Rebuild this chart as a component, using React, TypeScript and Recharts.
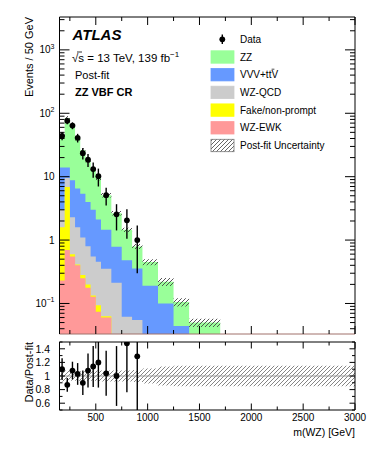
import React from 'react'
import { ComposedChart, Area, Scatter, ErrorBar, XAxis, YAxis, ReferenceLine } from 'recharts'

const FONT = '"Liberation Sans", Arial, Helvetica, sans-serif'

// variable-width bins in m(WZ) [GeV]
const binEdges = [150, 200, 250, 300, 350, 400, 450, 500, 550, 650, 750, 850, 950, 1100, 1250, 1400, 1700, 3000]

// post-fit yields, events / 50 GeV (stack order bottom -> top)
const wzEwk = [0.23, 0.7, 0.55, 0.4, 0.25, 0.177, 0.128, 0.074, 0.06, 0.02, 0.012, 0.008, 0.005, 0.003, 0.002, 0.001, 0.0005]
const fakeNonPrompt = [1.37, 6.2, 0.05, 0.01, 0.03, 0.023, 0.005, 0.02, 0.003, 0.002, 0.001, 0.001, 0.0005, 0.0003, 0.0002, 0.0001, 0.0001]
const wzQcd = [1.4, 2.6, 1.7, 1.19, 0.82, 0.6, 0.42, 0.36, 0.29, 0.19, 0.049, 0.046, 0.015, 0.01, 0.005, 0.002, 0.001]
const vvvTtv = [11, 4.5, 6.5, 4.9, 4.3, 3.2, 2.45, 1.65, 1.1, 0.57, 0.42, 0.3, 0.17, 0.087, 0.037, 0.015, 0.004]
const zzYield = [30, 70, 55.2, 33.5, 20.6, 14, 10, 7.4, 3.65, 1.87, 0.97, 0.44, 0.26, 0.12, 0.061, 0.032, 0.01]
// relative post-fit uncertainty per bin
const uncRel = [0.08, 0.08, 0.07, 0.07, 0.07, 0.07, 0.07, 0.08, 0.08, 0.08, 0.08, 0.09, 0.11, 0.14, 0.15, 0.15, 0.15]

// data
const dataCenters = [175, 225, 275, 325, 375, 425, 475, 525, 600, 700, 800, 900]
const dataValues = [44, 76, 64, 41, 23.5, 18.5, 13.2, 10.2, 5.1, 2.55, 2.05, 1.0]
const dataErr = [6.6, 8.7, 8, 6.4, 4.8, 4.3, 3.6, 3.2, 1.6, 1.13, 1.0, 0.7]
const ratioValues = [1.1, 0.87, 1.08, 1.03, 0.9, 1.08, 1.14, 1.2, 1.04, 1.0, 1.48, 1.29]
const ratioErr = [0.16, 0.1, 0.13, 0.16, 0.18, 0.25, 0.3, 0.37, 0.33, 0.44, 0.72, 0.9]

// axis ticks
const xTicks = [250, 500, 750, 1000, 1250, 1500, 1750, 2000, 2250, 2500, 2750, 3000]
const xMajor = [500, 1000, 1500, 2000, 2500, 3000]
const yTicks = [0.04, 0.05, 0.06, 0.07, 0.08, 0.09, 0.1, 0.2, 0.3, 0.4, 0.5, 0.6, 0.7, 0.8, 0.9, 1, 2, 3, 4, 5, 6, 7, 8, 9, 10, 20, 30, 40, 50, 60, 70, 80, 90, 100, 200, 300, 400, 500, 600, 700, 800, 900, 1000, 2000, 3000]
const yMajor = [0.1, 1, 10, 100, 1000]
const yMajorExp: Record<string, string> = { '0.1': '\u22121', '1': '', '10': '', '100': '2', '1000': '3' }
const rTicks = [0.5, 0.6, 0.7, 0.8, 0.9, 1, 1.1, 1.2, 1.3, 1.4, 1.5]
const rMajor = [0.6, 0.8, 1, 1.2, 1.4]

const Y_MIN = 0.033
const Y_MAX = 3300
const R_MIN = 0.5
const R_MAX = 1.5

const nBins = binEdges.length - 1
const binRows = binEdges.map((x, i) => {
  const j = Math.min(i, nBins - 1) // last edge repeats the last bin to close the step
  const ewk = wzEwk[j]
  const fake = ewk + fakeNonPrompt[j]
  const qcd = fake + wzQcd[j]
  const vvv = qcd + vvvTtv[j]
  const total = vvv + zzYield[j]
  return {
    x,
    ewk,
    fake,
    qcd,
    vvv,
    total,
    band: [total * (1 - uncRel[j]), total * (1 + uncRel[j])],
    ratioBand: [1 - uncRel[j], 1 + uncRel[j]],
  }
})

const pointRows = dataCenters.map((x, i) => ({ x, y: dataValues[i], err: dataErr[i] }))
// error bars are cut at the edges of the ratio frame
const ratioRows = dataCenters.map((x, i) => {
  const y = ratioValues[i]
  return { x, y, err: [Math.min(ratioErr[i], y - R_MIN), Math.min(ratioErr[i], R_MAX - y)] }
})

const DataDot = (p: any) => <circle cx={p.cx} cy={p.cy} r={2.9} fill="#000" />

function xTick(side: 'top' | 'bottom', majLen: number, minLen: number, labels: boolean) {
  return (p: any) => {
    const v = p.payload.value
    const isMaj = xMajor.includes(v)
    const dir = side === 'bottom' ? -1 : 1
    return (
      <g>
        <line x1={p.x} x2={p.x} y1={p.y} y2={p.y + dir * (isMaj ? majLen : minLen)} stroke="#000" />
        {labels && isMaj && (
          <text x={p.x} y={p.y + 10.5} textAnchor="middle" fontSize={10} fontFamily={FONT} fill="#000">
            {v}
          </text>
        )}
      </g>
    )
  }
}

function logTick(side: 'left' | 'right') {
  return (p: any) => {
    const v = p.payload.value
    const isMaj = yMajor.includes(v)
    const dir = side === 'left' ? 1 : -1
    const exp = yMajorExp[String(v)]
    return (
      <g>
        <line x1={p.x} x2={p.x + dir * (isMaj ? 10 : 5)} y1={p.y} y2={p.y} stroke="#000" />
        {side === 'left' && isMaj && (
          <text x={p.x - 5} y={p.y + 3.5} textAnchor="end" fontSize={10} fontFamily={FONT} fill="#000">
            {v === 1 ? '1' : '10'}
            {exp ? (
              <tspan dy={-4.5} fontSize={7}>
                {exp}
              </tspan>
            ) : null}
          </text>
        )}
      </g>
    )
  }
}

function ratioTick(side: 'left' | 'right') {
  return (p: any) => {
    const v = p.payload.value
    const isMaj = rMajor.includes(v)
    const dir = side === 'left' ? 1 : -1
    return (
      <g>
        <line x1={p.x} x2={p.x + dir * (isMaj ? 5.5 : 3)} y1={p.y} y2={p.y} stroke="#000" />
        {side === 'left' && isMaj && (
          <text x={p.x - 9.5} y={p.y + 3.7} textAnchor="end" fontSize={10.5} fontFamily={FONT} fill="#000">
            {v}
          </text>
        )}
      </g>
    )
  }
}

function Hatch({ id, color }: { id: string; color: string }) {
  return (
    <pattern id={id} patternUnits="userSpaceOnUse" width="4" height="4">
      <path d="M-1,1 l2,-2 M0,4 l4,-4 M3,5 l2,-2" stroke={color} strokeWidth="0.9" />
    </pattern>
  )
}

const legendItems = [
  { label: 'ZZ', fill: '#99ff99' },
  { label: 'VVV+ttV', fill: '#6699ff' },
  { label: 'WZ-QCD', fill: '#cccccc' },
  { label: 'Fake/non-prompt', fill: '#ffff00' },
  { label: 'WZ-EWK', fill: '#ff9999' },
  { label: 'Post-fit Uncertainty', fill: 'url(#hatchLegend)' },
]

function Overlay() {
  return (
    <svg width={374} height={456} style={{ position: 'absolute', left: 0, top: 0, pointerEvents: 'none' }} fontFamily={FONT}>
      <defs>
        <Hatch id="hatchLegend" color="#555" />
      </defs>
      <text x={72.5} y={40} fontSize={15} fontWeight="bold" fontStyle="italic">ATLAS</text>
      <line x1={77} x2={82} y1={52} y2={52} stroke="#000" strokeWidth={0.8} />
      <text x={72} y={62} fontSize={11.5}>
        {'\u221As = 13 TeV, 139 fb'}
        <tspan dy={-5} fontSize={8}>{'\u22121'}</tspan>
      </text>
      <text x={75} y={78.5} fontSize={11}>Post-fit</text>
      <text x={75} y={95.7} fontSize={11} fontWeight="bold">ZZ VBF CR</text>

      <text transform="translate(33,17) rotate(-90)" textAnchor="end" fontSize={11}>Events / 50 GeV</text>
      <text transform="translate(33,342) rotate(-90)" textAnchor="end" fontSize={11}>Data/Post-fit</text>
      <text x={355} y={436} textAnchor="end" fontSize={10.5}>m(WZ) [GeV]</text>

      {/* legend */}
      <line x1={222.3} x2={222.3} y1={34.5} y2={44} stroke="#000" strokeWidth={1.4} />
      <circle cx={222.3} cy={39.3} r={2.9} fill="#000" />
      <text x={240} y={42.9} fontSize={10}>Data</text>
      {legendItems.map((it, i) => {
        const cy = 57 + i * 17.7
        return (
          <g key={it.label}>
            <rect x={211} y={cy - 6.2} width={23} height={12.4} fill={it.fill}
              stroke={i === 5 ? '#777' : it.fill} strokeWidth={0.8} />
            <text x={240} y={cy + 3.6} fontSize={10}>{it.label}</text>
          </g>
        )
      })}
      {/* bar over the second t of ttV */}
      <line x1={271.6} x2={274.4} y1={69.2} y2={69.2} stroke="#000" strokeWidth={0.7} />
    </svg>
  )
}

function MainPanel() {
  return (
    <ComposedChart width={374} height={340} data={binRows} margin={{ top: 16, right: 18, bottom: 5, left: 58.5 }}>
      <defs>
        <Hatch id="hatchMain" color="#444" />
      </defs>
      <XAxis xAxisId="b" dataKey="x" type="number" domain={[150, 3000]} allowDataOverflow ticks={xTicks} interval={0}
        height={1} tickSize={0} tickMargin={0} tick={xTick('bottom', 8, 4, false)} axisLine={{ stroke: '#a0706a' }} tickLine={false} />
      <XAxis xAxisId="t" orientation="top" dataKey="x" type="number" domain={[150, 3000]} allowDataOverflow ticks={xTicks} interval={0}
        height={1} tickSize={0} tickMargin={0} tick={xTick('top', 8, 4, false)} axisLine={{ stroke: '#000' }} tickLine={false} />
      <YAxis yAxisId="l" type="number" scale="log" domain={[Y_MIN, Y_MAX]} allowDataOverflow ticks={yTicks} interval={0}
        width={1} tickSize={0} tickMargin={0} tick={logTick('left')} axisLine={{ stroke: '#000' }} tickLine={false} />
      <YAxis yAxisId="r" orientation="right" type="number" scale="log" domain={[Y_MIN, Y_MAX]} allowDataOverflow ticks={yTicks} interval={0}
        width={1} tickSize={0} tickMargin={0} tick={logTick('right')} axisLine={{ stroke: '#000' }} tickLine={false} />

      <Area xAxisId="b" yAxisId="l" type="stepAfter" dataKey="total" fill="#99ff99" fillOpacity={1} stroke="none" baseValue={Y_MIN} isAnimationActive={false} />
      <Area xAxisId="b" yAxisId="l" type="stepAfter" dataKey="vvv" fill="#6699ff" fillOpacity={1} stroke="none" baseValue={Y_MIN} isAnimationActive={false} />
      <Area xAxisId="b" yAxisId="l" type="stepAfter" dataKey="qcd" fill="#cccccc" fillOpacity={1} stroke="none" baseValue={Y_MIN} isAnimationActive={false} />
      <Area xAxisId="b" yAxisId="l" type="stepAfter" dataKey="fake" fill="#ffff00" fillOpacity={1} stroke="none" baseValue={Y_MIN} isAnimationActive={false} />
      <Area xAxisId="b" yAxisId="l" type="stepAfter" dataKey="ewk" fill="#ff9999" fillOpacity={1} stroke="none" baseValue={Y_MIN} isAnimationActive={false} />
      <Area xAxisId="b" yAxisId="l" type="stepAfter" dataKey="band" fill="url(#hatchMain)" fillOpacity={1} stroke="none" isAnimationActive={false} />

      <Scatter xAxisId="b" yAxisId="l" data={pointRows} dataKey="y" shape={DataDot} isAnimationActive={false}>
        <ErrorBar dataKey="err" direction="y" width={0} stroke="#000" strokeWidth={1.4} isAnimationActive={false} />
      </Scatter>
    </ComposedChart>
  )
}

function RatioPanel() {
  return (
    <ComposedChart width={374} height={120} data={binRows} margin={{ top: 5, right: 18, bottom: 45, left: 58.5 }}>
      <defs>
        <Hatch id="hatchRatio" color="#777" />
      </defs>
      <XAxis xAxisId="b" dataKey="x" type="number" domain={[150, 3000]} allowDataOverflow ticks={xTicks} interval={0}
        height={1} tickSize={0} tickMargin={0} tick={xTick('bottom', 6.5, 3.5, true)} axisLine={{ stroke: '#000' }} tickLine={false} />
      <XAxis xAxisId="t" orientation="top" dataKey="x" type="number" domain={[150, 3000]} allowDataOverflow ticks={xTicks} interval={0}
        height={1} tickSize={0} tickMargin={0} tick={xTick('top', 6.5, 3.5, false)} axisLine={{ stroke: '#000' }} tickLine={false} />
      <YAxis yAxisId="l" type="number" domain={[R_MIN, R_MAX]} allowDataOverflow ticks={rTicks} interval={0}
        width={1} tickSize={0} tickMargin={0} tick={ratioTick('left')} axisLine={{ stroke: '#000' }} tickLine={false} />
      <YAxis yAxisId="r" orientation="right" type="number" domain={[R_MIN, R_MAX]} allowDataOverflow ticks={rTicks} interval={0}
        width={1} tickSize={0} tickMargin={0} tick={ratioTick('right')} axisLine={{ stroke: '#000' }} tickLine={false} />

      <Area xAxisId="b" yAxisId="l" type="stepAfter" dataKey="ratioBand" fill="url(#hatchRatio)" fillOpacity={1} stroke="none" isAnimationActive={false} />
      <ReferenceLine xAxisId="b" yAxisId="l" y={1} stroke="#999" strokeWidth={1} />

      <Scatter xAxisId="b" yAxisId="l" data={ratioRows} dataKey="y" shape={DataDot} isAnimationActive={false}>
        <ErrorBar dataKey="err" direction="y" width={0} stroke="#000" strokeWidth={1.4} isAnimationActive={false} />
      </Scatter>
    </ComposedChart>
  )
}

export default function App() {
  return (
    <div style={{ position: 'absolute', left: 0, top: 0, width: 374, height: 456, background: '#fff', fontFamily: FONT }}>
      <div style={{ position: 'absolute', left: 0, top: 0 }}>
        <MainPanel />
      </div>
      <div style={{ position: 'absolute', left: 0, top: 336 }}>
        <RatioPanel />
      </div>
      <Overlay />
    </div>
  )
}
